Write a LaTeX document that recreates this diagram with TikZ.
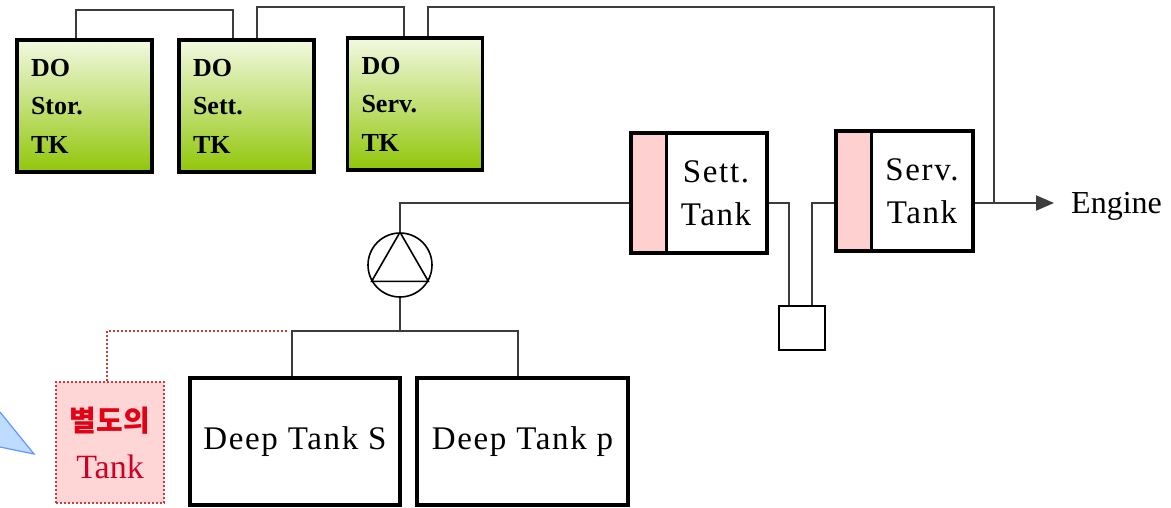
\documentclass[tikz,border=0pt]{standalone}
\usepackage{fontspec}
\setmainfont{Liberation Serif}
\newfontfamily\krfont{Noto Sans CJK KR}
\newfontfamily\widefont[LetterSpace=5]{Liberation Serif}
\usetikzlibrary{arrows.meta}
\definecolor{pipec}{RGB}{60,60,60}
\definecolor{gtop}{RGB}{242,249,225}
\definecolor{gbot}{RGB}{145,198,10}
\definecolor{pinkc}{RGB}{255,208,208}
\definecolor{redfill}{RGB}{255,214,214}
\definecolor{reddot}{RGB}{200,60,60}
\definecolor{redtxt}{RGB}{225,0,20}
\definecolor{redtxtb}{RGB}{205,0,35}
\definecolor{bluefill}{RGB}{190,220,255}
\definecolor{blueedge}{RGB}{100,150,255}
\begin{document}
\begin{tikzpicture}[x=1pt,y=-1pt,
  greentk/.style={draw=black, line width=3.5pt, top color=gtop, bottom color=gbot,
    minimum width=135pt, minimum height=132pt, inner sep=0pt, align=left,
    text width=107pt, font=\bfseries\fontsize{26}{38.5}\selectfont},
  tankbox/.style={draw=black, line width=3.5pt, fill=white, minimum width=136pt,
    minimum height=120pt, inner sep=0pt,
    path picture={\fill[pinkc] (path picture bounding box.north west) rectangle ([xshift=35pt]path picture bounding box.south west);
      \draw[line width=3pt] ([xshift=35pt]path picture bounding box.north west) -- ([xshift=35pt]path picture bounding box.south west);}},
  deepbox/.style={draw=black, line width=3.5pt, fill=white, minimum height=127pt,
    inner sep=0pt, font=\widefont\fontsize{33}{40}\selectfont},
  ttext/.style={font=\widefont\fontsize{33}{43}\selectfont, align=center, inner sep=0pt},
  pipe/.style={draw=pipec, line width=2pt},
  dotline/.style={draw=reddot, line width=2pt, dotted}]
\useasboundingbox (0,0) rectangle (1171,507);

% green tanks
\node[greentk] (stortk) at (84.5,106) {DO\\Stor.\\TK};
\node[greentk] (setttk) at (246.5,106) {DO\\Sett.\\TK};
\node[greentk] (servtk) at (415,104) {DO\\Serv.\\TK};

\draw[pipe] ([xshift=-8.5pt]stortk.north) -- ++(0,-28) -| ([xshift=-13.5pt]setttk.north);
\draw[pipe] ([xshift=10.5pt]setttk.north) -- ++(0,-31) -| ([xshift=-11pt]servtk.north);

% sett / serv tanks
\node[tankbox] (setttank) at (699,193) {};
\node[ttext] (setttxt) at ([xshift=17pt]setttank.center) {Sett.\\Tank};
\node[tankbox, minimum width=137pt] (servtank) at (904.5,191) {};
\node[ttext] (servtxt) at ([xshift=17.5pt]servtank.center) {Serv.\\Tank};

\node[draw=black, line width=1.8pt, fill=white, minimum width=46pt, minimum height=44pt, inner sep=0pt] (sq) at (802,328) {};

\coordinate (jn) at (994,203);
\coordinate (arrowtip) at (1054,203);
\node[font=\fontsize{32}{36}\selectfont, anchor=base west, inner sep=0pt] (engine) at (1071,213) {Engine};

\draw[pipe] ([xshift=13pt]servtk.north) -- ++(0,-29) -| (jn);
\draw[pipe, -{Triangle[length=18pt,width=15pt]}] ([yshift=-12pt]servtank.east) -- (arrowtip);
\draw[pipe] ([yshift=-10pt]setttank.east) -| ([xshift=-13pt]sq.north);
\draw[pipe] ([xshift=10pt]sq.north) |- ([yshift=-12pt]servtank.west);

% pump
\node[draw=black, line width=1.6pt, circle, minimum size=64pt, inner sep=0pt] (pump) at (400,265) {};
\draw[black, line width=1.6pt] (pump.north) -- (pump.210) -- (pump.330) -- cycle;
\draw[pipe] ([yshift=-10pt]setttank.west) -| (pump.north);

% deep tanks
\node[deepbox, minimum width=210pt] (deepS) at (295,441.5) {Deep Tank S};
\node[deepbox, minimum width=211pt] (deepP) at (522.5,441.5) {Deep Tank p};
\coordinate (split) at (400,331);
\draw[pipe] (pump.south) -- (split);
\draw[pipe] ([xshift=-3pt]deepS.north) |- (split) -| ([xshift=-4.5pt]deepP.north);

% separate tank
\node[draw=reddot, dotted, line width=2pt, fill=redfill, minimum width=108pt, minimum height=121pt,
  inner sep=0pt, align=center, font=\fontsize{34}{47}\selectfont] (redtk) at (110,442.5)
  {\textcolor{redtxt}{\krfont\bfseries\fontsize{29}{30}\selectfont 별도의}\\\textcolor{redtxtb}{Tank}};
\coordinate (dotend) at (288,331);
\draw[dotline] ([xshift=-3pt]redtk.north) |- (dotend);

% callout tail
\fill[bluefill] (0,412) -- (34,454) -- (0,447) -- cycle;
\draw[blueedge, line width=1.2pt] (0,412) -- (34,454) -- (0,447);
\end{tikzpicture}
\end{document}
